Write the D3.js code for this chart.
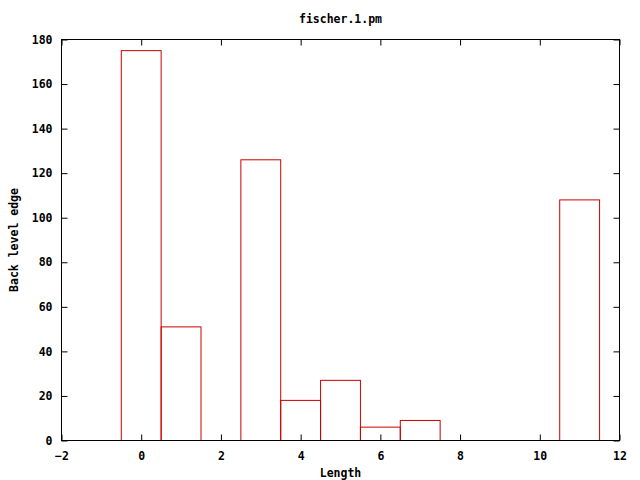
<!DOCTYPE html>
<html><head><meta charset="utf-8">
<script src="https://cdn.jsdelivr.net/npm/d3@7/dist/d3.min.js"></script>
<style>
html,body{margin:0;padding:0;background:#fff;}
text{font-family:"DejaVu Sans Mono","Liberation Mono",monospace;font-weight:bold;font-size:11.5px;fill:#000;}
</style></head>
<body><svg id="c" width="640" height="480"></svg>
<script>
const title = "fischer.1.pm";
const xLabel = "Length";
const yLabel = "Back level edge";
const lengths = [0, 1, 3, 4, 5, 6, 7, 11];
const counts = [175, 51, 126, 18, 27, 6, 9, 108];
const xTicks = [-2, 0, 2, 4, 6, 8, 10, 12];
const yTicks = [0, 20, 40, 60, 80, 100, 120, 140, 160, 180];

const svg = d3.select("#c");
const L = 61.5, R = 619.5, T = 39.5, B = 440.5;
const x = d3.scaleLinear().domain([-2, 12]).range([L, R]);
const y = d3.scaleLinear().domain([0, 180]).range([B, T]);
const tl = 6;

// bars
svg.append("g").selectAll("rect").data(lengths).enter().append("rect")
  .attr("x", (d) => x(d - 0.5))
  .attr("y", (d, i) => y(counts[i]))
  .attr("width", (d) => x(d + 0.5) - x(d - 0.5))
  .attr("height", (d, i) => y(0) - y(counts[i]))
  .attr("fill", "none").attr("stroke", "#cc0000").attr("stroke-width", 1);

// axes
const ax = svg.append("g");
ax.append("g").attr("transform", `translate(0,${B})`)
  .call(d3.axisBottom(x).tickValues(xTicks).tickSizeInner(-tl).tickSizeOuter(0).tickPadding(11))
  .call(g => g.select(".domain").remove());
ax.append("g").attr("transform", `translate(0,${T})`)
  .call(d3.axisTop(x).tickValues(xTicks).tickSizeInner(-tl).tickSizeOuter(0).tickFormat(""))
  .call(g => g.select(".domain").remove());
ax.append("g").attr("transform", `translate(${L},0)`)
  .call(d3.axisLeft(y).tickValues(yTicks).tickSizeInner(-tl).tickSizeOuter(0).tickPadding(9))
  .call(g => g.select(".domain").remove());
ax.append("g").attr("transform", `translate(${R},0)`)
  .call(d3.axisRight(y).tickValues(yTicks).tickSizeInner(-tl).tickSizeOuter(0).tickFormat(""))
  .call(g => g.select(".domain").remove());
ax.selectAll("line").attr("stroke", "#000");
ax.selectAll("text").attr("font-family", null).attr("font-size", null).attr("fill", "#000");

svg.append("rect").attr("x", L).attr("y", T).attr("width", R - L).attr("height", B - T)
  .attr("fill", "none").attr("stroke", "#000").attr("stroke-width", 1);

svg.append("text").attr("x", (L + R) / 2).attr("y", 19).attr("dy", "0.35em")
  .attr("text-anchor", "middle").text(title);
svg.append("text").attr("x", (L + R) / 2).attr("y", 473).attr("dy", "0.35em")
  .attr("text-anchor", "middle").text(xLabel);
svg.append("text").attr("transform", `translate(14,${(T + B) / 2}) rotate(-90)`).attr("dy", "0.35em")
  .attr("text-anchor", "middle").text(yLabel);
</script></body></html>
